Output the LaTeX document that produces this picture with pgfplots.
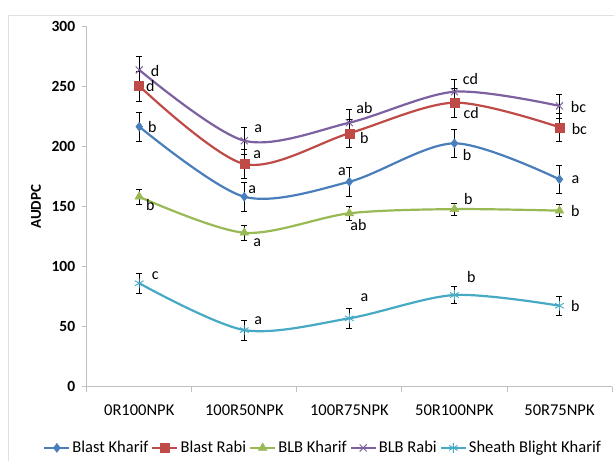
\documentclass[border=0pt]{standalone}
\usepackage{fontspec}
\setmainfont{Carlito}
\usepackage{pgfplots}
\pgfplotsset{compat=1.18}
\usepackage{pgfplotstable}
\definecolor{cBK}{HTML}{4A7EBB}
\definecolor{cBR}{HTML}{BE4B48}
\definecolor{cGK}{HTML}{98B954}
\definecolor{cGR}{HTML}{7D60A0}
\definecolor{cSB}{HTML}{46AAC5}
\definecolor{axgray}{HTML}{BFBFBF}

\pgfplotstableread{
x y e
0 216.7 12
1 158.3 12
2 170.8 12
3 202.8 12
4 172.8 12
}\blastK
\pgfplotstableread{
x y e
0 250.6 12.5
1 185.6 12
2 211.2 12
3 236.7 12
4 216.2 12
}\blastR
\pgfplotstableread{
x y e
0 158.3 6
1 128.3 6
2 144.5 6
3 148.0 5
4 146.7 5
}\blbK
\pgfplotstableread{
x y e
0 264.0 11.5
1 205.0 11
2 220.0 11
3 245.8 10
4 234.0 10
}\blbR
\pgfplotstableread{
x y e
0 86.2 8
1 47.2 8.5
2 57.0 8
3 76.4 7
4 67.5 8
}\sheath

\begin{document}
\begin{tikzpicture}
\useasboundingbox (0pt,0pt) rectangle (614pt,461pt);
\draw[black!12, line width=0.8pt] (8pt,0pt) -- (8pt,446pt) -- (614pt,446pt);
\begin{axis}[
  at={(86.7pt,74.3pt)}, anchor=south west,
  scale only axis, width=525.3pt, height=360pt,
  xmin=-0.5, xmax=4.5, ymin=0, ymax=300,
  clip=false,
  axis lines=left,
  axis line style={-, draw=axgray, line width=0.8pt},
  xtick={-0.5,0.5,1.5,2.5,3.5,4.5},
  x tick label as interval,
  xticklabels={0R100NPK,100R50NPK,100R75NPK,50R100NPK,50R75NPK},
  ytick={0,50,...,300},
  tick align=outside,
  major tick length=5pt,
  tick style={draw=axgray, line width=0.8pt},
  /pgf/number format/assume math mode=true,
  xticklabel style={font=\fontsize{16.5}{18}\selectfont, yshift=-10pt},
  yticklabel style={font=\bfseries\fontsize{15.5}{18}\selectfont, xshift=-3pt},
  ylabel={\bfseries AUDPC},
  ylabel style={font=\fontsize{15}{18}\selectfont, at={(axis description cs:-0.0965,0.5)}, anchor=center, rotate=0},
  legend style={draw=none, at={(axis description cs:0.45,-0.170)}, anchor=center,
    legend columns=-1, font=\fontsize{16.5}{18}\selectfont,
    /tikz/every even column/.append style={column sep=1pt},
    /tikz/every odd column/.append style={column sep=0pt},
    inner sep=0pt},
  legend image code/.code={\draw[mark repeat=2,mark phase=2] plot coordinates {(0pt,0pt)(12.5pt,0pt)(25pt,0pt)};},
  every axis plot/.append style={line width=2.2pt},
  error bars/error bar style={black, line width=0.7pt},
  error bars/error mark options={black, mark size=3pt, line width=0.7pt, rotate=90},
]
\addplot[cBK, smooth, mark=diamond*, mark size=4.5pt, mark options={fill=cBK, draw=cBK, line width=0.5pt},
  error bars/.cd, y dir=both, y explicit] table[x=x, y=y, y error=e]{\blastK};
\addlegendentry{Blast Kharif}
\addplot[cBR, smooth, mark=square*, mark size=4.5pt, mark options={fill=cBR, draw=cBR, line width=0.5pt},
  error bars/.cd, y dir=both, y explicit] table[x=x, y=y, y error=e]{\blastR};
\addlegendentry{Blast Rabi}
\addplot[cGK, smooth, mark=triangle*, mark size=5pt, mark options={fill=cGK, draw=cGK, line width=0.5pt},
  error bars/.cd, y dir=both, y explicit] table[x=x, y=y, y error=e]{\blbK};
\addlegendentry{BLB Kharif}
\addplot[cGR, smooth, mark=x, mark size=5pt, mark options={draw=cGR, line width=0.9pt},
  error bars/.cd, y dir=both, y explicit] table[x=x, y=y, y error=e]{\blbR};
\addlegendentry{BLB Rabi}
\addplot[cSB, smooth, mark=asterisk, mark size=5pt, mark options={draw=cSB, line width=0.9pt},
  error bars/.cd, y dir=both, y explicit] table[x=x, y=y, y error=e]{\sheath};
\addlegendentry{Sheath Blight Kharif}

\begin{scope}[every node/.style={font=\fontsize{16}{18}\selectfont, inner sep=0pt}]
% Blast Kharif
\node at (axis cs:0.124,216.4) {b};
\node at (axis cs:1.076,163.9) {a};
\node at (axis cs:1.93,178.9) {a};
\node at (axis cs:3.12,193) {b};
\node at (axis cs:4.152,172.3) {a};
% Blast Rabi
\node at (axis cs:0.105,250.6) {d};
\node at (axis cs:1.124,193) {a};
\node at (axis cs:2.143,207) {b};
\node at (axis cs:3.159,228) {cd};
\node at (axis cs:4.19,214.8) {bc};
% BLB Kharif
\node at (axis cs:0.105,151.4) {b};
\node at (axis cs:1.124,119.8) {a};
\node at (axis cs:2.086,134.8) {ab};
\node at (axis cs:3.133,156.4) {b};
\node at (axis cs:4.152,146.4) {b};
% BLB Rabi
\node at (axis cs:0.152,263) {d};
\node at (axis cs:1.133,214.8) {a};
\node at (axis cs:2.143,232.3) {ab};
\node at (axis cs:3.152,256.4) {cd};
\node at (axis cs:4.181,233.1) {bc};
% Sheath Blight
\node at (axis cs:0.152,92.3) {c};
\node at (axis cs:1.133,54.8) {a};
\node at (axis cs:2.143,73.9) {a};
\node at (axis cs:3.162,91.4) {b};
\node at (axis cs:4.152,67.2) {b};
\end{scope}
\end{axis}
\end{tikzpicture}
\end{document}
